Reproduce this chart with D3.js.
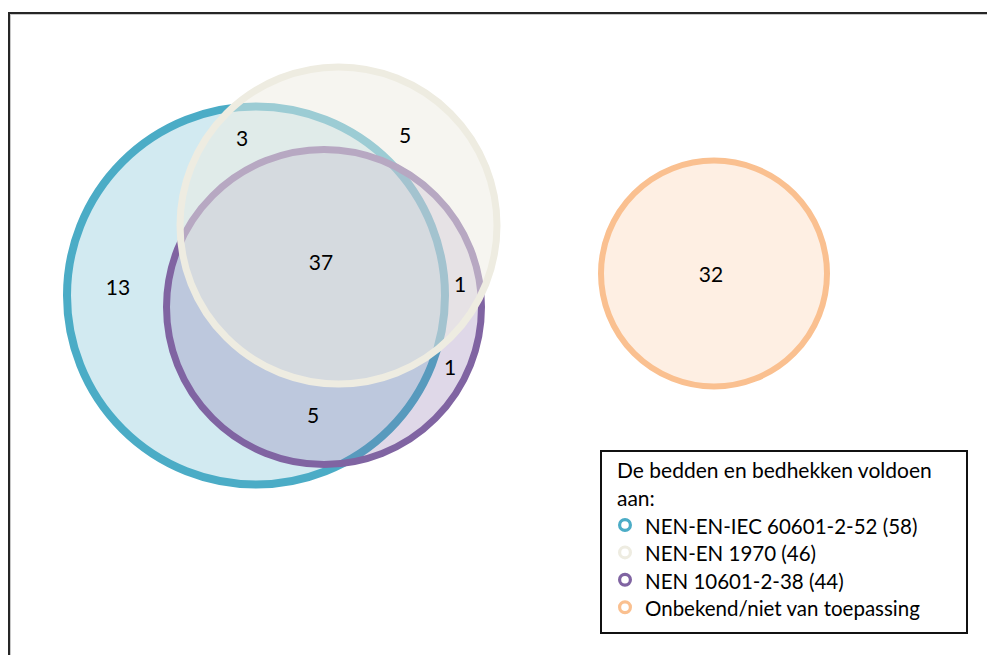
<!DOCTYPE html>
<html>
<head>
<meta charset="utf-8">
<script src="https://cdn.jsdelivr.net/npm/d3@7/dist/d3.min.js"></script>
<style>
  html, body { margin: 0; padding: 0; background: #fff; }
  svg { display: block; }
  text { font-family: Lato, "Open Sans", sans-serif; fill: #000; }
</style>
</head>
<body>
<svg id="chart" width="987" height="655"></svg>
<script>
// Sets and their sizes
const setNames = ["NEN-EN-IEC 60601-2-52", "NEN-EN 1970", "NEN 10601-2-38", "Onbekend/niet van toepassing"];
const setTotals = [58, 46, 44, null];
const setColors = ["#4bacc6", "#eeece1", "#8064a2", "#fac090"];
const fillOpacity = [0.25, 0.5, 0.25, 0.25];

// Region counts (A = IEC, B = 1970, C = 10601, D = unknown / not applicable)
const regionKeys = ["A", "AB", "B", "ABC", "BC", "C", "AC", "D"];
const regionValues = [13, 3, 5, 37, 1, 1, 5, 32];

const legendTitle = ["De bedden en bedhekken voldoen", "aan:"];

// Venn layout in chart units (0..100 horizontally, 0..66 vertically)
const circleLayout = [
  { set: 0, cx: 25.6, cy: 29.55, r: 18.9, sw: 8 },
  { set: 2, cx: 32.4, cy: 30.7, r: 15.75, sw: 7 },
  { set: 1, cx: 33.85, cy: 22.55, r: 15.85, sw: 7 },
  { set: 3, cx: 71.4, cy: 27.35, r: 11.3, sw: 6 }
];
// Label anchor for each region, same order as regionKeys
const labelLayout = [
  [11.8, 28.6], [24.2, 13.7], [40.5, 13.4], [32.1, 26.1],
  [46.0, 28.3], [45.0, 36.6], [31.3, 41.4], [71.1, 27.3]
];

const svg = d3.select("#chart");
const x = d3.scaleLinear().domain([0, 100]).range([0, 1000]);
const y = d3.scaleLinear().domain([0, 66]).range([0, 660]);
const rScale = d3.scaleLinear().domain([0, 100]).range([0, 1000]);

// Outer frame
svg.append("rect")
  .attr("x", 9).attr("y", 13).attr("width", 1000).attr("height", 700)
  .attr("fill", "none").attr("stroke", "#262626").attr("stroke-width", 2);
svg.append("rect")
  .attr("x", 10.5).attr("y", 14.5).attr("width", 1000).attr("height", 700)
  .attr("fill", "none").attr("stroke", "#c8c8c8").attr("stroke-width", 1);

// Circles: fill and outline drawn together so later circles tint earlier outlines
const circles = svg.append("g").attr("class", "venn");
circleLayout.forEach(c => {
  circles.append("circle")
    .attr("cx", x(c.cx)).attr("cy", y(c.cy)).attr("r", rScale(c.r))
    .attr("fill", setColors[c.set]).attr("fill-opacity", fillOpacity[c.set])
    .attr("stroke", "none");
  circles.append("circle")
    .attr("cx", x(c.cx)).attr("cy", y(c.cy)).attr("r", rScale(c.r))
    .attr("fill", "none")
    .attr("stroke", setColors[c.set]).attr("stroke-width", c.sw);
});

// Region counts
svg.append("g").selectAll("text")
  .data(regionValues)
  .join("text")
  .attr("x", (d, i) => x(labelLayout[i][0]))
  .attr("y", (d, i) => y(labelLayout[i][1]))
  .attr("text-anchor", "middle")
  .attr("dominant-baseline", "central")
  .attr("font-size", 21)
  .text(d => d);

// Legend
const legend = svg.append("g").attr("class", "legend");
legend.append("rect")
  .attr("x", 601).attr("y", 451).attr("width", 366).attr("height", 182)
  .attr("fill", "#fff").attr("stroke", "#111").attr("stroke-width", 2);

legend.selectAll("text.title")
  .data(legendTitle)
  .join("text")
  .attr("class", "title")
  .attr("x", 617)
  .attr("y", (d, i) => 478 + i * 28)
  .attr("font-size", 21)
  .text(d => d);

const items = legend.selectAll("g.item")
  .data(setNames)
  .join("g")
  .attr("class", "item")
  .attr("transform", (d, i) => `translate(0, ${i * 27.4})`);

items.append("circle")
  .attr("cx", 625).attr("cy", 525)
  .attr("r", 5.4)
  .attr("fill", "#fff")
  .attr("stroke", (d, i) => setColors[i])
  .attr("stroke-width", 3.2);

items.append("text")
  .attr("x", 645).attr("y", 534)
  .attr("font-size", 20.5)
  .text((d, i) => setTotals[i] == null ? d : `${d} (${setTotals[i]})`);
</script>
</body>
</html>
